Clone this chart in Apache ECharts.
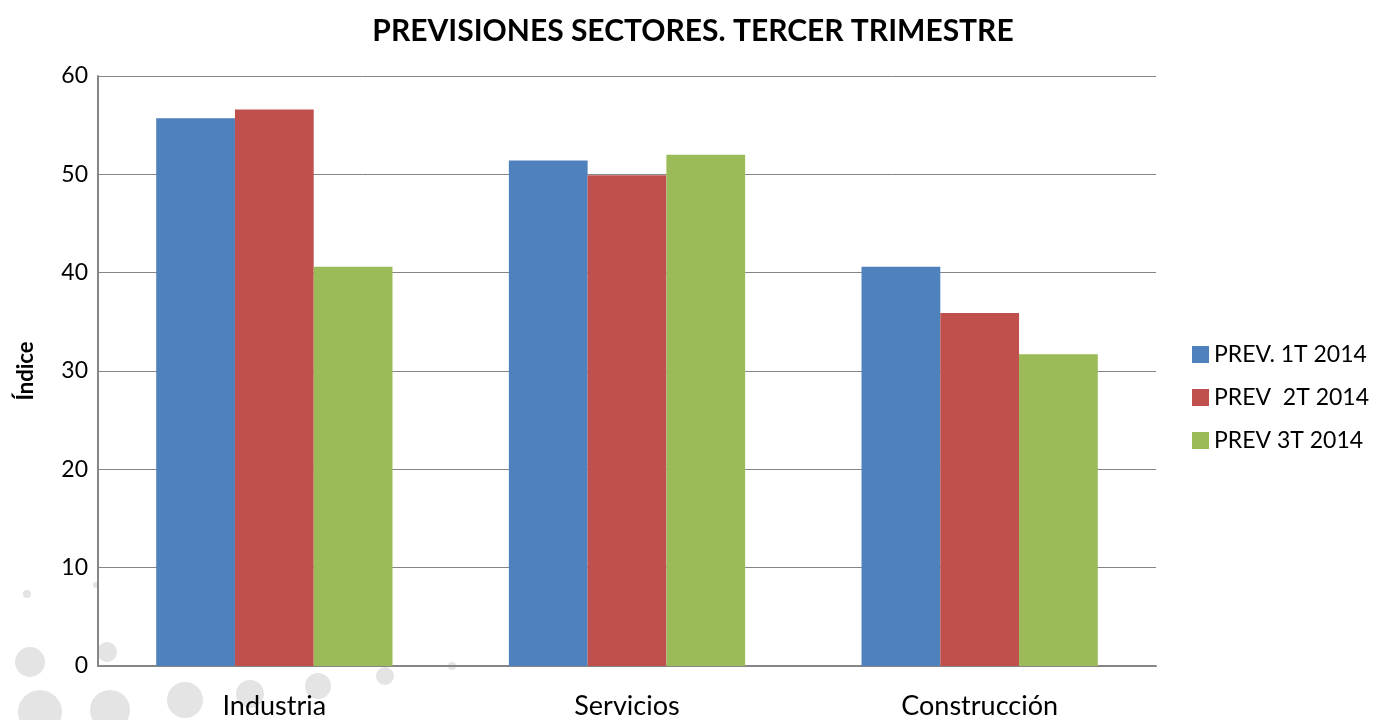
<!DOCTYPE html>
<html>
<head>
<meta charset="utf-8">
<script src="https://cdn.jsdelivr.net/npm/echarts@6/dist/echarts.min.js"></script>
<style>
  html, body { margin: 0; padding: 0; background: #fff; }
  #chart { width: 1375px; height: 720px; }
</style>
</head>
<body>
<div id="chart"></div>
<script>
// datos
var sectores = ['Industria', 'Servicios', 'Construcción'];
var prev1T = [55.7, 51.4, 40.6];
var prev2T = [56.6, 49.9, 35.9];
var prev3T = [40.6, 52.0, 31.7];
var nombres = ['PREV. 1T 2014', 'PREV  2T 2014', 'PREV 3T 2014'];
var colores = ['#4f81bd', '#c0504d', '#9bbb59'];

var fuente = 'Lato, "Open Sans", sans-serif';

// circulos grises de fondo (decoracion)
var circulos = [
  [30, 662, 15], [40, 712, 22], [110, 710, 20], [185, 700, 18],
  [250, 694, 14], [318, 686, 13], [385, 676, 9], [452, 666, 4],
  [107, 652, 10], [27, 594, 4], [96, 585, 3]
];
var graficos = circulos.map(function (c) {
  return {
    type: 'circle', z: -1, silent: true,
    shape: { cx: c[0], cy: c[1], r: c[2] },
    style: { fill: '#e4e4e4' }
  };
});

var chart = echarts.init(document.getElementById('chart'));
var option = {
  backgroundColor: '#fff',
  animation: false,
  graphic: graficos,
  title: {
    text: 'PREVISIONES SECTORES. TERCER TRIMESTRE',
    left: 688, top: 11, textAlign: 'center',
    textStyle: { fontFamily: fuente, fontSize: 30, fontWeight: 'bold', color: '#000' }
  },
  legend: {
    orient: 'vertical',
    left: 1187, top: 338,
    itemWidth: 17, itemHeight: 17, itemGap: 20,
    icon: 'rect',
    data: nombres,
    textStyle: { fontFamily: fuente, fontSize: 23, color: '#000' }
  },
  grid: { left: 98, right: 219, top: 76, bottom: 52 },
  xAxis: {
    type: 'category',
    data: sectores,
    axisLine: { lineStyle: { color: '#868686', width: 2 } },
    axisTick: { show: false },
    axisLabel: { fontFamily: fuente, fontSize: 27, color: '#000', margin: 27 }
  },
  yAxis: {
    type: 'value',
    min: 0, max: 60, interval: 10,
    name: 'Índice',
    nameLocation: 'middle',
    nameGap: 61,
    nameTextStyle: { fontFamily: fuente, fontSize: 22, fontWeight: 'bold', color: '#000' },
    axisLine: { show: true, lineStyle: { color: '#868686', width: 2 } },
    axisTick: { show: false },
    splitLine: { lineStyle: { color: '#868686', width: 1 } },
    axisLabel: { fontFamily: fuente, fontSize: 23, color: '#000', margin: 10 }
  },
  series: [
    { name: nombres[0], type: 'bar', data: prev1T, itemStyle: { color: colores[0] }, barGap: '0%', barCategoryGap: '33%' },
    { name: nombres[1], type: 'bar', data: prev2T, itemStyle: { color: colores[1] } },
    { name: nombres[2], type: 'bar', data: prev3T, itemStyle: { color: colores[2] } }
  ]
};
chart.setOption(option);
</script>
</body>
</html>
